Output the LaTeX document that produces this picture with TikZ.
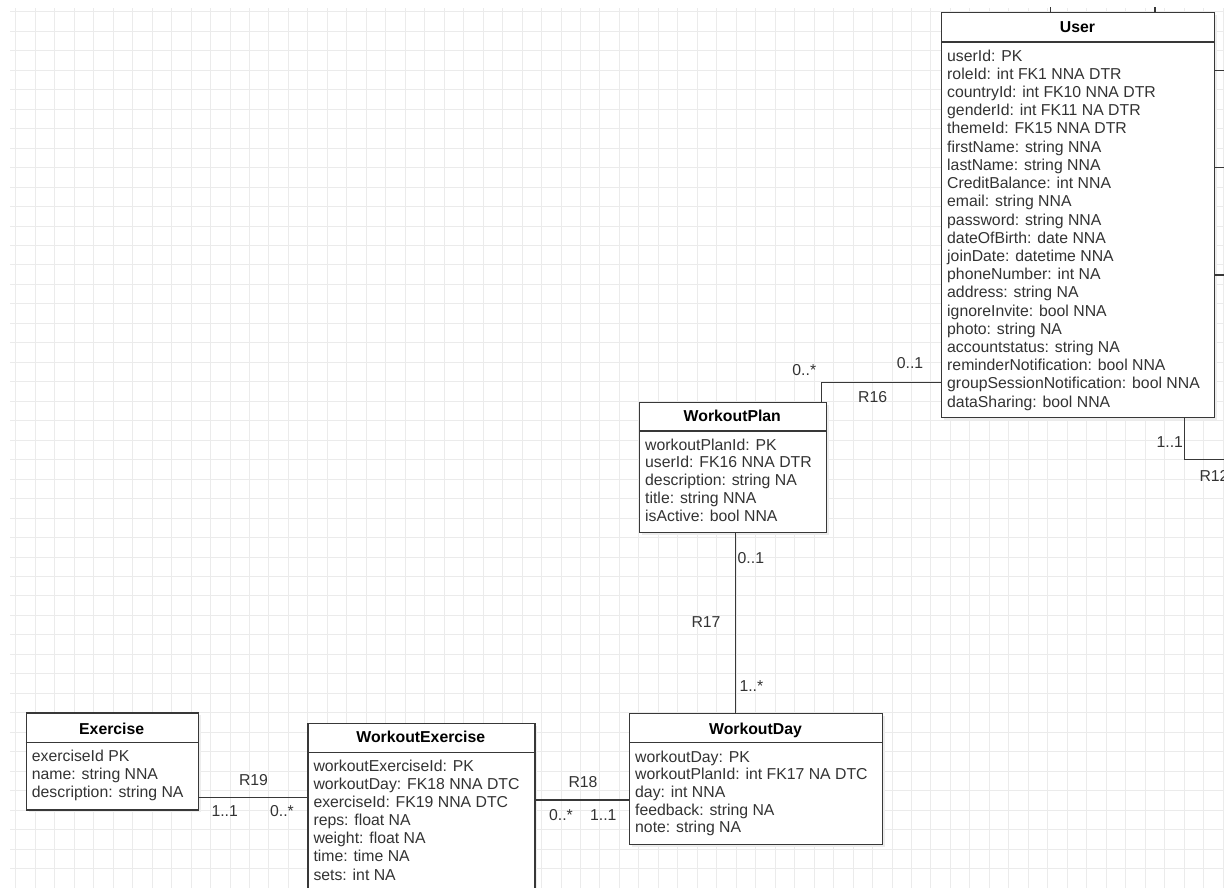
\documentclass[tikz,border=0pt]{standalone}
\usepackage{fontspec}
\setmainfont{Liberation Sans}
\definecolor{gridcol}{HTML}{EBEBEB}
\definecolor{boxline}{HTML}{383838}
\definecolor{txt}{HTML}{333333}
\begin{document}
\begin{tikzpicture}[x=1pt,y=-1pt,
  gridline/.style={draw=gridcol,line width=0.9pt},
  entbox/.style={draw=boxline,line width=1.3pt,fill=white,inner sep=0pt,anchor=north west},
  boxshadow/.style={fill=black!7},
  sepline/.style={draw=boxline,line width=1.3pt},
  conn/.style={draw=boxline,line width=1.2pt},
  title/.style={font=\fontsize{15.8}{18}\selectfont\bfseries,text=black,inner sep=0pt,anchor=base},
  attr/.style={font=\fontsize{15.8}{18}\selectfont,text=txt,inner sep=0pt,anchor=base west},
  lbl/.style={font=\fontsize{15.8}{18}\selectfont,text=txt,inner sep=0pt,anchor=base}]
\useasboundingbox (0,0) rectangle (1224,888);
\clip (0,0) rectangle (1224,888);

% background grid
\foreach \i in {0,...,62} \draw[gridline] ({15.8+19.47*\i},8) -- ({15.8+19.47*\i},888);
\foreach \j in {0,...,45} \draw[gridline] (10,{11.8+19.47*\j}) -- (1224,{11.8+19.47*\j});

% shadows
\fill[boxshadow] (944,15) rectangle (1217,419.7);
\fill[boxshadow] (642,404.7) rectangle (828.7,535);
\fill[boxshadow] (632,715.7) rectangle (885,847);
\fill[boxshadow] (310.3,725.7) rectangle (537.3,903);
\fill[boxshadow] (28.7,715.3) rectangle (200.7,812.3);

% entity boxes
\node[entbox,minimum width=273pt,minimum height=404.7pt] (user) at (941,12) {};
\node[entbox,minimum width=186.7pt,minimum height=130.3pt] (plan) at (639,401.7) {};
\node[entbox,minimum width=253pt,minimum height=131.3pt] (day) at (629,712.7) {};
\node[entbox,minimum width=227pt,minimum height=177.3pt] (wex) at (307.3,722.7) {};
\node[entbox,minimum width=172pt,minimum height=97pt] (exercise) at (25.7,712.3) {};

% header separators
\draw[sepline] ([yshift=-30pt]user.north west) -- ([yshift=-30pt]user.north east);
\draw[sepline] ([yshift=-29.3pt]plan.north west) -- ([yshift=-29.3pt]plan.north east);
\draw[sepline] ([yshift=-30pt]day.north west) -- ([yshift=-30pt]day.north east);
\draw[sepline] ([yshift=-30pt]wex.north west) -- ([yshift=-30pt]wex.north east);
\draw[sepline] ([yshift=-30.4pt]exercise.north west) -- ([yshift=-30.4pt]exercise.north east);

% titles
\node[title] (user-t) at (1077.5,32.3) {User};
\node[title] (plan-t) at (732.3,421.7) {WorkoutPlan};
\node[title] (day-t) at (755.5,734) {WorkoutDay};
\node[title] (wex-t) at (420.8,742.7) {WorkoutExercise};
\node[title] (exercise-t) at (111.7,734.3) {Exercise};

% attributes
\foreach \t [count=\k from 0] in {userId: PK,roleId: int FK1 NNA DTR,countryId: int FK10 NNA DTR,genderId: int FK11 NA DTR,themeId: FK15 NNA DTR,firstName: string NNA,lastName: string NNA,CreditBalance: int NNA,email: string NNA,password: string NNA,dateOfBirth: date NNA,joinDate: datetime NNA,phoneNumber: int NA,address: string NA,ignoreInvite: bool NNA,photo: string NA,accountstatus: string NA,reminderNotification: bool NNA,groupSessionNotification: bool NNA,dataSharing: bool NNA}
  \node[attr] (user-\k) at (947,{61.2+18.2*\k}) {\t};
\foreach \t [count=\k from 0] in {workoutPlanId: PK,userId: FK16 NNA DTR,description: string NA,title: string NNA,isActive: bool NNA}
  \node[attr] (plan-\k) at (645,{450+17.8*\k}) {\t};
\foreach \t [count=\k from 0] in {workoutDay: PK,workoutPlanId: int FK17 NA DTC,day: int NNA,feedback: string NA,note: string NA}
  \node[attr] (day-\k) at (635,{762.3+17.6*\k}) {\t};
\foreach \t [count=\k from 0] in {workoutExerciseId: PK,workoutDay: FK18 NNA DTC,exerciseId: FK19 NNA DTC,reps: float NA,weight: float NA,time: time NA,sets: int NA}
  \node[attr] (wex-\k) at (313.3,{771.7+18.05*\k}) {\t};
\foreach \t [count=\k from 0] in {exerciseId PK,name: string NNA,description: string NA}
  \node[attr] (exercise-\k) at (31.7,{761.7+17.8*\k}) {\t};

% connector routing points
\coordinate (r19) at (0,797.3);
\coordinate (r18) at (0,800);
\coordinate (r17) at (735.3,0);
\coordinate (r16x) at (821.7,0);
\coordinate (r16y) at (0,382.3);
\coordinate (r12x) at (1184.3,0);
\coordinate (r12y) at (0,459.3);
\coordinate (r12end) at (1230,459.3);
\coordinate (topA) at (1050.7,0);
\coordinate (topB) at (1155,0);
\coordinate (rightA) at (1230,70.7);
\coordinate (rightB) at (1230,167.7);
\coordinate (rightC) at (1230,275);

% relationships
\draw[conn] (exercise.east |- r19) -- (wex.west |- r19);
\draw[conn] (wex.east |- r18) -- (day.west |- r18);
\draw[conn] (plan.south -| r17) -- (day.north -| r17);
\draw[conn] (plan.north -| r16x) -- (r16x |- r16y) -- (user.west |- r16y);
\draw[conn] (user.south -| r12x) -- (r12x |- r12y) -- (r12end);
\draw[conn] (user.north -| topA) -- (topA |- 0,7);
\draw[conn] (user.north -| topB) -- (topB |- 0,7);
\draw[conn] (user.east |- rightA) -- (rightA);
\draw[conn] (user.east |- rightB) -- (rightB);
\draw[conn] (user.east |- rightC) -- (rightC);

% relationship labels
\node[lbl] (r19-n) at (253.5,785) {R19};
\node[lbl] (r19-a) at (224.7,816) {1..1};
\node[lbl] (r19-b) at (282,816) {0..*};
\node[lbl] (r18-n) at (583,787.3) {R18};
\node[lbl] (r18-a) at (561,820) {0..*};
\node[lbl] (r18-b) at (603.3,820) {1..1};
\node[lbl,anchor=base west] (r17-a) at (737.5,563) {0..1};
\node[lbl] (r17-n) at (706,627.3) {R17};
\node[lbl,anchor=base west] (r17-b) at (739.3,691) {1..*};
\node[lbl] (r16-a) at (804.3,375) {0..*};
\node[lbl] (r16-b) at (910,368.3) {0..1};
\node[lbl] (r16-n) at (872.7,402.3) {R16};
\node[lbl] (r12-a) at (1169.8,447.7) {1..1};
\node[lbl,anchor=base west] (r12-n) at (1199.3,481) {R12};
\end{tikzpicture}
\end{document}
